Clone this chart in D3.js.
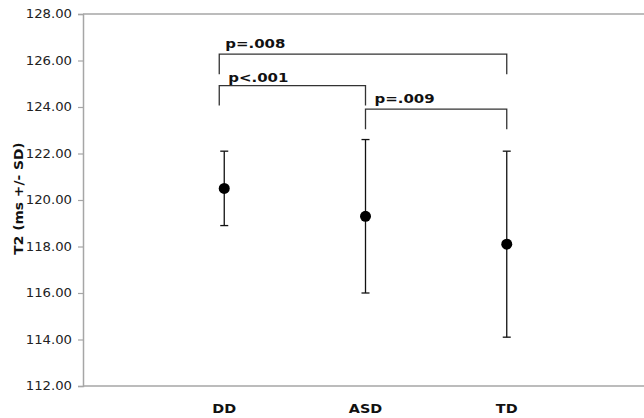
<!DOCTYPE html>
<html lang="en">
<head>
    <meta charset="utf-8">
    <title>T2 by group</title>
    <script src="https://d3js.org/d3.v7.min.js"></script>
    <style>
        body { margin: 0; background: #fff; }
        text { font-family: "DejaVu Sans", Verdana, sans-serif; }
    </style>
</head>
<body>
    <div id="chart"></div>
    <script>
        // Data
        const groups = ["DD", "ASD", "TD"];
        const means = [120.5, 119.3, 118.1];
        const upper = [122.1, 122.6, 122.1];
        const lower = [118.9, 116.0, 114.1];
        const yTicks = [112, 114, 116, 118, 120, 122, 124, 126, 128];

        // Significance brackets (ends as group index, heights in ms)
        const bracketLabels = ["p=.008", "p<.001", "p=.009"];
        const bracketFrom = [0, 0, 1];
        const bracketTo = [2, 1, 2];
        const bracketTop = [126.27, 124.92, 123.91];
        const bracketLeg = [125.41, 124.06, 123.04];

        // Chart dimensions
        const width = 644;
        const height = 418;
        const stretch = 1.15;

        const svg = d3.select("#chart")
            .append("svg")
            .attr("width", width)
            .attr("height", height);

        // Scales
        const x = d3.scaleLinear().domain([0, 4]).range([83, 648]);
        const y = d3.scaleLinear().domain([112, 128]).range([386, 14]);

        // widen text a little, the original glyphs are wider than DejaVu
        function widen(sel) {
            sel.each(function () {
                const w = this.getComputedTextLength();
                d3.select(this)
                    .attr("textLength", w * stretch)
                    .attr("lengthAdjust", "spacingAndGlyphs");
            });
        }

        // Frame
        svg.append("line")
            .attr("x1", x(0)).attr("x2", width)
            .attr("y1", y(128)).attr("y2", y(128))
            .attr("stroke", "#a6a6a6").attr("stroke-width", 1.5);

        svg.append("line")
            .attr("x1", x(0)).attr("x2", width)
            .attr("y1", y(112)).attr("y2", y(112))
            .attr("stroke", "#a6a6a6").attr("stroke-width", 1.5);

        // Y axis
        const yAxis = svg.append("g")
            .attr("transform", `translate(${x(0)},0)`)
            .call(d3.axisLeft(y).tickValues(yTicks).tickSize(5).tickPadding(6).tickFormat(d3.format(".2f")));

        yAxis.select(".domain").attr("stroke", "#a6a6a6").attr("stroke-width", 1.5);
        yAxis.selectAll(".tick line").attr("stroke", "#a6a6a6").attr("stroke-width", 1.2);
        yAxis.selectAll(".tick text")
            .attr("font-family", "DejaVu Sans, Verdana, sans-serif")
            .attr("font-size", "11.5px")
            .attr("fill", "#222")
            .call(widen);

        // Axis title
        svg.append("text")
            .attr("transform", "translate(23,198.5) rotate(-90)")
            .attr("text-anchor", "middle")
            .attr("font-weight", "bold")
            .attr("font-size", "12px")
            .attr("fill", "#111")
            .text("T2 (ms +/- SD)")
            .call(widen);

        // Category labels
        svg.selectAll("text.cat")
            .data(groups)
            .enter()
            .append("text")
            .attr("class", "cat")
            .attr("x", (d, i) => x(i + 1))
            .attr("y", 413)
            .attr("text-anchor", "middle")
            .attr("font-weight", "bold")
            .attr("font-size", "12.5px")
            .attr("fill", "#111")
            .text(d => d)
            .call(widen);

        // Error bars
        const bars = svg.selectAll("g.bar")
            .data(groups)
            .enter()
            .append("g")
            .attr("class", "bar");

        bars.append("line")
            .attr("x1", (d, i) => x(i + 1))
            .attr("x2", (d, i) => x(i + 1))
            .attr("y1", (d, i) => y(upper[i]))
            .attr("y2", (d, i) => y(lower[i]))
            .attr("stroke", "#111")
            .attr("stroke-width", 1.3);

        bars.append("line")
            .attr("x1", (d, i) => x(i + 1) - 4)
            .attr("x2", (d, i) => x(i + 1) + 4)
            .attr("y1", (d, i) => y(upper[i]))
            .attr("y2", (d, i) => y(upper[i]))
            .attr("stroke", "#111")
            .attr("stroke-width", 1.3);

        bars.append("line")
            .attr("x1", (d, i) => x(i + 1) - 4)
            .attr("x2", (d, i) => x(i + 1) + 4)
            .attr("y1", (d, i) => y(lower[i]))
            .attr("y2", (d, i) => y(lower[i]))
            .attr("stroke", "#111")
            .attr("stroke-width", 1.3);

        bars.append("circle")
            .attr("cx", (d, i) => x(i + 1))
            .attr("cy", (d, i) => y(means[i]))
            .attr("r", 5.5)
            .attr("fill", "#000");

        // Brackets: the ones starting at DD sit a few px left of the DD bar
        const bx = g => x(g + 1) - (g === 0 ? 5 : 0);

        svg.selectAll("path.bracket")
            .data(bracketLabels)
            .enter()
            .append("path")
            .attr("class", "bracket")
            .attr("d", (d, i) => {
                const x0 = bx(bracketFrom[i]), x1 = bx(bracketTo[i]);
                return `M${x0},${y(bracketLeg[i])}V${y(bracketTop[i])}H${x1}V${y(bracketLeg[i])}`;
            })
            .attr("fill", "none")
            .attr("stroke", "#333")
            .attr("stroke-width", 1.3);

        svg.selectAll("text.p")
            .data(bracketLabels)
            .enter()
            .append("text")
            .attr("class", "p")
            .attr("x", (d, i) => bx(bracketFrom[i]) + (i === 0 ? 6 : 9))
            .attr("y", (d, i) => y(bracketTop[i]) - (i === 1 ? 4 : 6))
            .attr("font-weight", "bold")
            .attr("font-size", "13px")
            .attr("fill", "#111")
            .text(d => d)
            .call(widen);
    </script>
</body>
</html>
